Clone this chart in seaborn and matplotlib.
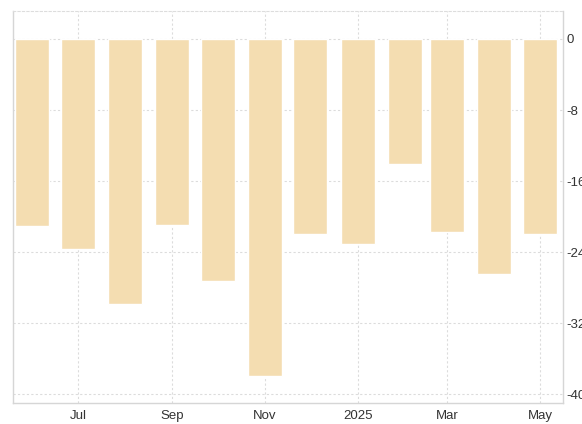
import pandas as pd
import matplotlib
matplotlib.use("Agg")
import matplotlib.pyplot as plt
import matplotlib.dates as mdates
import seaborn as sns

# Monthly values, Jun 2024 - May 2025
months = ['2024-06-01', '2024-07-01', '2024-08-01', '2024-09-01', '2024-10-01', '2024-11-01',
          '2024-12-01', '2025-01-01', '2025-02-01', '2025-03-01', '2025-04-01', '2025-05-01']
values = [-21.1, -23.7, -29.8, -21.0, -27.3, -38.0,
          -22.0, -23.1, -14.1, -21.7, -26.5, -22.0]
yticks = [0, -8, -16, -24, -32, -40]
xtick_dates = ['2024-07-01', '2024-09-01', '2024-11-01', '2025-01-01', '2025-03-01', '2025-05-01']
xtick_labels = ['Jul', 'Sep', 'Nov', '2025', 'Mar', 'May']

df = pd.DataFrame({'date': pd.to_datetime(months), 'value': values})
df['x'] = mdates.date2num(df['date'])

sns.set_style("white")
plt.rcParams['font.family'] = ['Liberation Sans', 'DejaVu Sans']
fig = plt.figure(figsize=(5.82, 4.24), dpi=100)
ax = fig.add_axes([0.0218, 0.0495, 0.945, 0.9245])

sns.barplot(data=df, x='x', y='value', native_scale=True, color='#F4DDB1',
            saturation=1, width=0.8, ax=ax, zorder=2)

ax.set_xlim(mdates.date2num(pd.Timestamp('2024-05-19')), mdates.date2num(pd.Timestamp('2025-05-16')))
ax.set_ylim(-41.0, 3.15)

ax.set_xticks(mdates.date2num(pd.to_datetime(xtick_dates)))
ax.set_xticklabels(xtick_labels)
ax.set_yticks(yticks)
ax.set_yticklabels([str(t) for t in yticks])
ax.yaxis.tick_right()
ax.tick_params(axis='both', length=0, labelsize=9.5, colors='#333333', pad=5)
ax.tick_params(axis='y', pad=3)

ax.grid(True, linestyle=(0, (2, 2)), color='#dcdcdc', linewidth=0.8, zorder=0)
ax.set_axisbelow(True)
for side in ['left', 'bottom', 'right']:
    ax.spines[side].set_color('#d6d6d6')
    ax.spines[side].set_linewidth(1.0)
ax.spines['top'].set_color('#dddddd')
ax.spines['top'].set_linestyle((0, (2, 2)))
ax.spines['top'].set_linewidth(0.8)

ax.set_xlabel('')
ax.set_ylabel('')

plt.savefig('out.png', dpi=100)
plt.close()
